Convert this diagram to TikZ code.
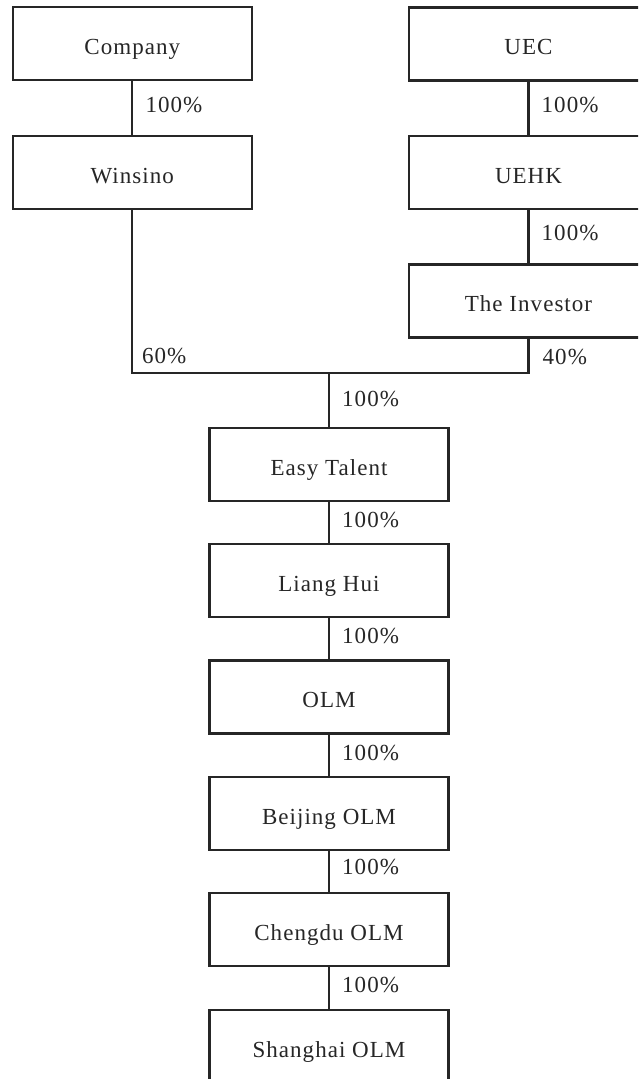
\documentclass[tikz,border=0pt]{standalone}
\usepackage{fontspec}
\setmainfont{Liberation Serif}
\newfontfamily\boxfont[LetterSpace=4.5]{Liberation Serif}
\begin{document}
\begin{tikzpicture}[x=1pt,y=-1pt,
  firm/.style={draw=black!85, line width=2.2pt, minimum width=239pt, minimum height=73pt,
    inner sep=0pt, text height=27.6pt, text depth=5.75pt, text=black!85,
    font=\fontsize{23}{27}\selectfont\boxfont},
  pct/.style={anchor=west, inner sep=0pt, text=black!85, font=\fontsize{23}{27}\selectfont\boxfont},
  link/.style={line width=2.2pt, draw=black!85}]
\useasboundingbox (0,0) rectangle (638,1079);
\clip (0,0) rectangle (638,1079);
% left column
\node[firm] (company) at (132.3,43.8) {Company};
\node[firm] (winsino) at (132.3,172.5) {Winsino};
% right column
\node[firm] (uec) at (528.5,44) {UEC};
\node[firm] (uehk) at (528.5,172.5) {UEHK};
\node[firm] (investor) at (528.5,301) {The Investor};
% centre column
\coordinate (join) at (329,373.3);
\node[firm] (easy) at (329,464.3) {Easy Talent};
\node[firm] (liang) at (329,580.5) {Liang Hui};
\node[firm] (olm) at (329,697) {OLM};
\node[firm] (beijing) at (329,813.5) {Beijing OLM};
\node[firm] (chengdu) at (329,929.5) {Chengdu OLM};
\node[firm] (shanghai) at (329,1046.5) {Shanghai OLM};
% connectors
\draw[link] (company) -- (winsino);
\draw[link] (uec) -- (uehk);
\draw[link] (uehk) -- (investor);
\draw[link] (winsino.south) |- (join) -| (investor.south);
\draw[link] (join) -- (easy);
\draw[link] (easy) -- (liang);
\draw[link] (liang) -- (olm);
\draw[link] (olm) -- (beijing);
\draw[link] (beijing) -- (chengdu);
\draw[link] (chengdu) -- (shanghai);
% labels
\node[pct] (l1) at (145.3,105) {100\%};
\node[pct] (l2) at (541.5,105) {100\%};
\node[pct] (l3) at (541.5,233) {100\%};
\node[pct] (l4) at (142,356) {60\%};
\node[pct] (l5) at (542.5,357) {40\%};
\node[pct] (l6) at (342,399) {100\%};
\node[pct] (l7) at (342,520) {100\%};
\node[pct] (l8) at (342,636) {100\%};
\node[pct] (l9) at (342,753) {100\%};
\node[pct] (l10) at (342,867) {100\%};
\node[pct] (l11) at (342,985) {100\%};
\end{tikzpicture}
\end{document}
